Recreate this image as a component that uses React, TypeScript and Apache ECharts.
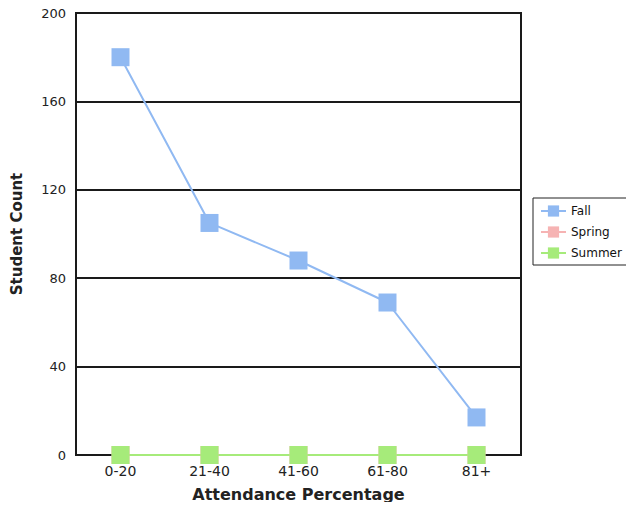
import React, { useEffect, useRef } from "react";
import * as echarts from "echarts";

const categories = ["0-20", "21-40", "41-60", "61-80", "81+"];
const fallValues = [180, 105, 88, 69, 17];
const springValues = [0, 0, 0, 0, 0];
const summerValues = [0, 0, 0, 0, 0];
const yTicks = { min: 0, max: 200, interval: 40 };

export default function App() {
  const ref = useRef<HTMLDivElement>(null);
  useEffect(() => {
    const chart = echarts.init(ref.current!, null, { renderer: "svg" });
    const font = "DejaVu Sans, Verdana, sans-serif";
    const mk = (name: string, data: number[], color: string) => ({
      name,
      type: "line",
      data,
      symbol: "rect",
      symbolSize: 18,
      lineStyle: { color, width: 2 },
      itemStyle: { color },
    });
    chart.setOption({
      animation: false,
      backgroundColor: "#ffffff",
      textStyle: { fontFamily: font },
      grid: {
        left: 76,
        right: 113,
        top: 13,
        bottom: 55,
        show: true,
        borderColor: "#1a1a1a",
        borderWidth: 2,
        backgroundColor: "transparent",
      },
      legend: {
        orient: "vertical",
        left: 533,
        top: 198,
        padding: [7, 60, 6, 7],
        itemGap: 9,
        itemWidth: 25,
        itemHeight: 14,
        borderColor: "#222",
        borderWidth: 1,
        textStyle: { fontFamily: font, fontSize: 12, color: "#111" },
        data: ["Fall", "Spring", "Summer"],
      },
      xAxis: {
        type: "category",
        data: categories,
        boundaryGap: true,
        name: "Attendance Percentage",
        nameLocation: "middle",
        nameGap: 31,
        nameTextStyle: { fontFamily: font, fontSize: 16, fontWeight: "bold", color: "#222" },
        axisLine: { show: true, lineStyle: { color: "#1a1a1a", width: 2 } },
        axisTick: { show: false },
        axisLabel: { fontSize: 14, color: "#222", margin: 9 },
        splitLine: { show: false },
      },
      yAxis: {
        type: "value",
        min: yTicks.min,
        max: yTicks.max,
        interval: yTicks.interval,
        name: "Student Count",
        nameLocation: "middle",
        nameGap: 52,
        nameTextStyle: { fontFamily: font, fontSize: 15, fontWeight: "bold", color: "#222" },
        axisLine: { show: true, lineStyle: { color: "#1a1a1a", width: 2 } },
        axisTick: { show: false },
        axisLabel: { fontSize: 13, color: "#222", margin: 10 },
        splitLine: { show: true, lineStyle: { color: "#1a1a1a", width: 2 } },
      },
      series: [
        mk("Fall", fallValues, "#90b9f2"),
        mk("Spring", springValues, "#f6b3b3"),
        mk("Summer", summerValues, "#a6eb7a"),
      ],
    });
    return () => chart.dispose();
  }, []);
  return <div ref={ref} style={{ width: 634, height: 510, margin: -8 }} />;
}
